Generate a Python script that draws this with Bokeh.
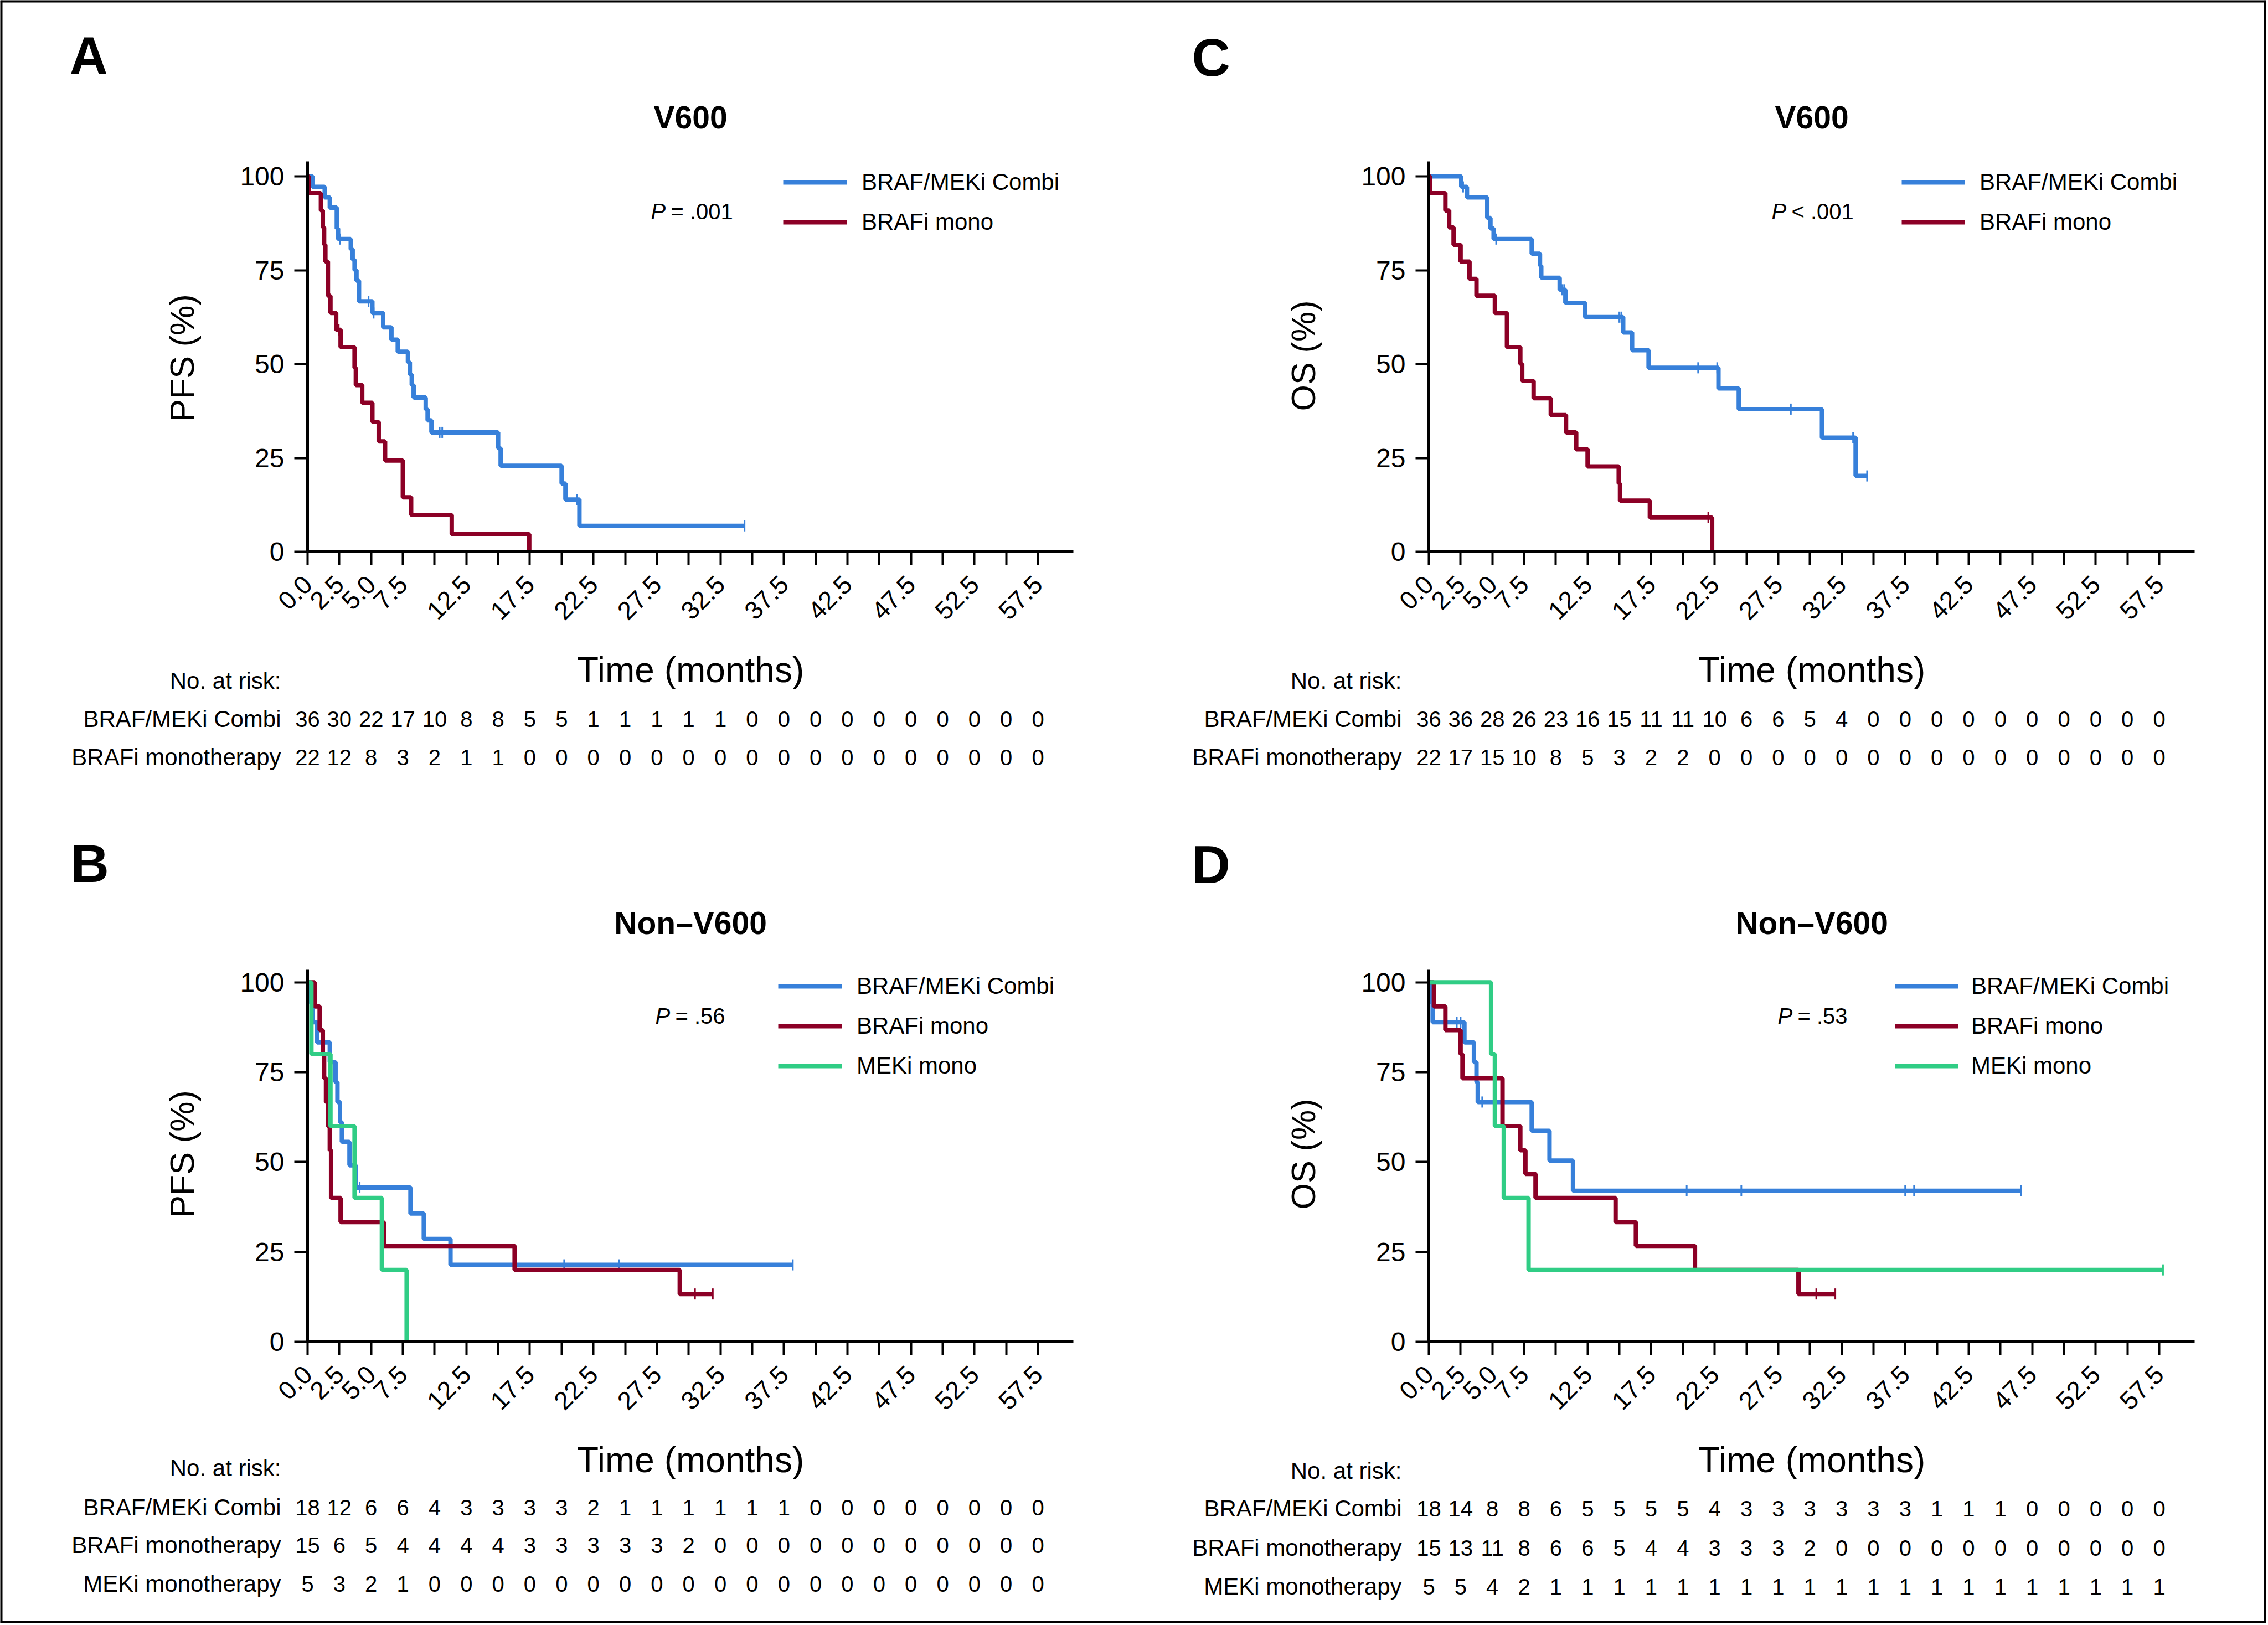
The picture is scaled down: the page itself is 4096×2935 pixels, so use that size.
import math
from bokeh.plotting import figure
from bokeh.models import (ColumnDataSource, FixedTicker, Label, LabelSet, Legend,
                          LegendItem, LinearAxis, Span)
from bokeh.layouts import column, row
from bokeh.embed import file_html
from bokeh.resources import INLINE
from bokeh.core.properties import value

# ------------------------------------------------------------------ data
RISK_TIMES = [0, 2.5, 5, 7.5, 10, 12.5, 15, 17.5, 20, 22.5, 25, 27.5, 30, 32.5,
              35, 37.5, 40, 42.5, 45, 47.5, 50, 52.5, 55, 57.5]
XTICK_LABELS = ["0.0", "2.5", "5.0", "7.5", "", "12.5", "", "17.5", "", "22.5", "",
                "27.5", "", "32.5", "", "37.5", "", "42.5", "", "47.5", "", "52.5", "", "57.5"]
YTICKS = [0, 25, 50, 75, 100]

SERIES_NAMES = ["BRAF/MEKi Combi", "BRAFi mono", "MEKi mono"]
RISK_NAMES = ["BRAF/MEKi Combi", "BRAFi monotherapy", "MEKi monotherapy"]

# Panel A: PFS, V600
A_COMBI_T = [0, 0.4, 1.35, 1.75, 2.3, 2.4, 3.4, 3.55, 3.7, 3.85, 4.05, 5.1, 5.95, 6.6, 7.1,
             7.9, 8.05, 8.2, 8.35, 9.3, 9.45, 9.75, 15.0, 15.2, 20.0, 20.3, 21.4]
A_COMBI_S = [100, 97.2, 94.4, 91.7, 86.1, 83.3, 80.6, 77.8, 75.0, 72.2, 66.7, 63.6, 59.8, 56.5,
             53.3, 50.5, 47.2, 44.4, 41.1, 37.9, 35.0, 31.8, 27.6, 22.9, 18.2, 13.9, 6.9]
A_COMBI_END = 34.4
A_COMBI_CENS = [2.55, 4.8, 5.2, 10.4, 10.6, 21.2, 34.4]
A_BRAF_T = [0, 0.1, 1.05, 1.2, 1.3, 1.4, 1.6, 1.8, 2.25, 2.6, 3.7, 3.8, 4.3, 5.1, 5.6, 6.1,
            7.5, 8.15, 11.35, 17.45]
A_BRAF_S = [100, 95.5, 90.9, 86.4, 81.8, 77.3, 68.2, 63.6, 59.1, 54.5, 49.0, 44.4, 39.7, 34.6,
            29.4, 24.3, 14.5, 9.8, 4.7, 0]
A_BRAF_END = 17.45
A_BRAF_CENS = [2.45]
A_RISK_COMBI = [36, 30, 22, 17, 10, 8, 8, 5, 5, 1, 1, 1, 1, 1, 0, 0, 0, 0, 0, 0, 0, 0, 0, 0]
A_RISK_BRAF = [22, 12, 8, 3, 2, 1, 1, 0, 0, 0, 0, 0, 0, 0, 0, 0, 0, 0, 0, 0, 0, 0, 0, 0]

# Panel C: OS, V600
C_COMBI_T = [0, 2.55, 3.0, 4.6, 4.85, 5.1, 8.1, 8.75, 8.85, 10.3, 10.75, 12.3, 15.3, 16.0,
             17.3, 22.8, 24.4, 30.95, 33.6]
C_COMBI_S = [100, 97.2, 94.4, 88.9, 86.1, 83.3, 79.4, 76.2, 73.0, 69.8, 66.3, 62.5, 58.4, 53.7,
             49.0, 43.5, 38.0, 30.4, 20.2]
C_COMBI_END = 34.5
C_COMBI_CENS = [2.7, 5.3, 10.5, 10.65, 15.0, 15.15, 21.2, 22.7, 28.5, 33.4, 34.5]
C_BRAF_T = [0, 0.1, 1.3, 1.6, 1.95, 2.5, 3.2, 3.75, 5.2, 6.15, 7.2, 7.35, 8.25, 9.6, 10.8,
            11.6, 12.5, 14.95, 15.05, 17.4, 22.3]
C_BRAF_S = [100, 95.5, 90.9, 86.4, 81.8, 77.3, 72.7, 68.2, 63.6, 54.5, 50.0, 45.5, 40.9, 36.4,
            31.8, 27.3, 22.7, 18.2, 13.6, 9.1, 0]
C_BRAF_END = 22.3
C_BRAF_CENS = [22.0]
C_RISK_COMBI = [36, 36, 28, 26, 23, 16, 15, 11, 11, 10, 6, 6, 5, 4, 0, 0, 0, 0, 0, 0, 0, 0, 0, 0]
C_RISK_BRAF = [22, 17, 15, 10, 8, 5, 3, 2, 2, 0, 0, 0, 0, 0, 0, 0, 0, 0, 0, 0, 0, 0, 0, 0]

# Panel B: PFS, non-V600
B_COMBI_T = [0, 0.2, 0.4, 0.75, 1.75, 2.2, 2.35, 2.55, 2.7, 3.3, 3.8, 8.1, 9.15, 11.25]
B_COMBI_S = [100, 94.4, 88.9, 83.3, 77.8, 72.2, 66.7, 61.1, 55.6, 49.1, 42.9, 35.7, 28.6, 21.4]
B_COMBI_END = 38.2
B_COMBI_CENS = [4.1, 20.2, 24.5, 38.2]
B_BRAF_T = [0, 0.55, 0.95, 1.2, 1.3, 1.45, 1.6, 1.75, 1.85, 2.6, 6.0, 16.3, 29.3]
B_BRAF_S = [100, 93.3, 86.7, 80.0, 73.3, 66.7, 60.0, 53.3, 40.0, 33.3, 26.7, 20.0, 13.3]
B_BRAF_END = 31.9
B_BRAF_CENS = [30.5, 31.9]
B_MEK_T = [0, 0.3, 1.8, 3.7, 5.85, 7.8]
B_MEK_S = [100, 80, 60, 40, 20, 0]
B_MEK_END = 7.8
B_MEK_CENS = []
B_RISK_COMBI = [18, 12, 6, 6, 4, 3, 3, 3, 3, 2, 1, 1, 1, 1, 1, 1, 0, 0, 0, 0, 0, 0, 0, 0]
B_RISK_BRAF = [15, 6, 5, 4, 4, 4, 4, 3, 3, 3, 3, 3, 2, 0, 0, 0, 0, 0, 0, 0, 0, 0, 0, 0]
B_RISK_MEK = [5, 3, 2, 1, 0, 0, 0, 0, 0, 0, 0, 0, 0, 0, 0, 0, 0, 0, 0, 0, 0, 0, 0, 0]

# Panel D: OS, non-V600
D_COMBI_T = [0, 0.15, 0.3, 2.8, 3.55, 3.75, 3.85, 8.1, 9.5, 11.35]
D_COMBI_S = [100, 94.4, 88.9, 83.3, 77.8, 72.2, 66.7, 58.7, 50.4, 42.0]
D_COMBI_END = 46.6
D_COMBI_CENS = [2.2, 2.5, 4.2, 20.3, 24.6, 37.5, 38.2, 46.6]
D_BRAF_T = [0, 0.4, 1.3, 2.5, 2.65, 5.8, 7.2, 7.6, 8.4, 14.7, 16.3, 20.95, 29.1]
D_BRAF_S = [100, 93.3, 86.7, 80.0, 73.3, 60.0, 53.3, 46.7, 40.0, 33.3, 26.7, 20.0, 13.3]
D_BRAF_END = 32.0
D_BRAF_CENS = [30.5, 32.0]
D_MEK_T = [0, 4.9, 5.2, 5.9, 7.85]
D_MEK_S = [100, 80, 60, 40, 20]
D_MEK_END = 57.8
D_MEK_CENS = [57.8]
D_RISK_COMBI = [18, 14, 8, 8, 6, 5, 5, 5, 5, 4, 3, 3, 3, 3, 3, 3, 1, 1, 1, 0, 0, 0, 0, 0]
D_RISK_BRAF = [15, 13, 11, 8, 6, 6, 5, 4, 4, 3, 3, 3, 2, 0, 0, 0, 0, 0, 0, 0, 0, 0, 0, 0]
D_RISK_MEK = [5, 5, 4, 2, 1, 1, 1, 1, 1, 1, 1, 1, 1, 1, 1, 1, 1, 1, 1, 1, 1, 1, 1, 1]

# ------------------------------------------------------------------ style / layout
COLORS = ["#3780DA", "#8C0026", "#30CD85"]
SANS = "Liberation Sans"
PXM = 22.94      # pixels per month
XMAX = 60.3


def level_at(ts, ss, c):
    v = ss[0]
    for t, s in zip(ts, ss):
        if t <= c:
            v = s
        else:
            break
    return v


def lab(p, x, y, text, size, **kw):
    opts = dict(text_font=SANS, text_font_size=size, text_color="black",
                text_baseline="middle")
    opts.update(kw)
    p.add_layout(Label(x=x, y=y, text=text, **opts))


def make_panel(cfg):
    g = cfg["geo"]
    x0, y0 = g["x0"], g["y0"]
    pxp = g["pxp"]

    def fx(X):
        return (X - x0) / PXM

    def fy(Y):
        return (y0 - Y) / pxp

    xr = (fx(g["ox"]), fx(g["ox"] + g["w"]))
    yr = (fy(g["oy"] + g["h"]), fy(g["oy"]))
    p = figure(width=g["w"], height=g["h"], x_range=xr, y_range=yr,
               x_axis_location=None, y_axis_location=None,
               min_border_left=0, min_border_right=0, min_border_top=0, min_border_bottom=0,
               output_backend="svg", toolbar_location=None)
    p.outline_line_color = None
    p.xgrid.visible = False
    p.ygrid.visible = False
    p.background_fill_color = "white"
    p.border_fill_color = "white"

    xa = LinearAxis(fixed_location=0, bounds=(0, XMAX), ticker=FixedTicker(ticks=RISK_TIMES))
    ya = LinearAxis(fixed_location=0, bounds=(0, g["ymax"]), ticker=FixedTicker(ticks=YTICKS))
    for ax in (xa, ya):
        ax.axis_line_width = 5
        ax.axis_line_color = "black"
        ax.major_tick_line_width = 4
        ax.major_tick_line_color = "black"
        ax.major_tick_out = 24
        ax.major_tick_in = 0
        ax.minor_tick_line_color = None
        ax.major_label_text_color = "black"
        ax.major_label_text_font = SANS
    xa.major_label_overrides = {t: s for t, s in zip(RISK_TIMES, XTICK_LABELS)}
    xa.major_label_orientation = math.pi / 4
    xa.major_label_text_font_size = "46px"
    xa.major_label_standoff = 27
    ya.major_label_text_font_size = "48px"
    ya.major_label_standoff = 18
    p.add_layout(xa, "below")
    p.add_layout(ya, "left")

    # outer frame of the whole picture (outside edges only)
    for side in cfg["frame"]:
        if side == "left":
            loc, dim = xr[0], "height"
        elif side == "right":
            loc, dim = xr[1], "height"
        elif side == "top":
            loc, dim = yr[1], "width"
        else:
            loc, dim = yr[0], "width"
        p.add_layout(Span(location=loc, dimension=dim, line_color="black", line_width=8))

    items = []
    for i, (ts, ss, end, cens) in enumerate(cfg["curves"]):
        xs = list(ts)
        ys = list(ss)
        if end > xs[-1]:
            xs.append(end)
            ys.append(ys[-1])
        src = ColumnDataSource(dict(t=xs, s=ys))
        r = p.step("t", "s", source=src, mode="after", line_color=COLORS[i], line_width=8)
        if cens:
            cy = [level_at(ts, ss, c) for c in cens]
            p.scatter(cens, cy, marker="dash", angle=math.pi / 2, size=20,
                      line_color=COLORS[i], line_width=3)
        items.append(LegendItem(label=SERIES_NAMES[i], renderers=[r]))

    lg = cfg["legend"]
    legend = Legend(items=items, location=(lg["vx"], lg["vy"]), glyph_width=115,
                    glyph_height=46, label_height=46, spacing=24, padding=0, margin=0,
                    label_standoff=lg["standoff"], border_line_color=None,
                    background_fill_alpha=0, label_text_font=SANS,
                    label_text_font_size="42px", label_text_color="black")
    p.add_layout(legend)

    # titles and labels (y values are visual centres)
    xc = XMAX / 2
    lab(p, xc, fy(cfg["title_y"]), cfg["title"], "57px", text_font_style="bold",
        text_align="center")
    lab(p, fx(cfg["letter_x"]), fy(cfg["letter_y"]), cfg["letter"], "96px",
        text_font_style="bold")
    lab(p, fx(x0 - 227), fy(cfg["ylab_y"]), cfg["ylabel"], "61px", angle=math.pi / 2,
        text_align="center")
    lab(p, xc, fy(y0 + 213), "Time (months)", "64px", text_align="center")

    pv = cfg["pval"]
    lab(p, fx(pv["px"]), fy(pv["y"]), "P", "40px", text_font_style="italic")
    lab(p, fx(pv["rx"]), fy(pv["y"]), pv["text"], "40px")

    rk = cfg["risk"]
    lab(p, fx(rk["right"]), fy(rk["head_y"]), "No. at risk:", "42px", text_align="right")
    for i, (vals, ry) in enumerate(zip(rk["rows"], rk["ys"])):
        lab(p, fx(rk["right"]), fy(ry), RISK_NAMES[i], "42px", text_align="right")
        src = ColumnDataSource(dict(x=RISK_TIMES, y=[fy(ry)] * len(RISK_TIMES),
                                    text=[str(v) for v in vals]))
        p.add_layout(LabelSet(x="x", y="y", text="text", source=src,
                              text_font=value(SANS), text_font_size="40px",
                              text_align="center", text_baseline="middle",
                              text_color="black"))
    return p


TOP = dict(oy=0, h=1448, y0=996, pxp=705 / 104, ymax=104)
BOT = dict(oy=1448, h=1483, y0=2423, pxp=672 / 103.5, ymax=103.5)

panel_A = make_panel(dict(
    geo=dict(ox=0, w=2046, x0=555, **TOP), frame=["left", "top"],
    title="V600", title_y=211, ylabel="PFS (%)", ylab_y=646,
    letter="A", letter_x=125, letter_y=100,
    curves=[(A_COMBI_T, A_COMBI_S, A_COMBI_END, A_COMBI_CENS),
            (A_BRAF_T, A_BRAF_S, A_BRAF_END, A_BRAF_CENS)],
    legend=dict(vx=1414, vy=1023, standoff=27),
    pval=dict(px=1175, rx=1211, y=381, text="= .001"),
    risk=dict(right=507, head_y=1229, ys=[1298, 1367], rows=[A_RISK_COMBI, A_RISK_BRAF])))

panel_C = make_panel(dict(
    geo=dict(ox=2046, w=2046, x0=2580, **TOP), frame=["right", "top"],
    title="V600", title_y=211, ylabel="OS (%)", ylab_y=642,
    letter="C", letter_x=2152, letter_y=103,
    curves=[(C_COMBI_T, C_COMBI_S, C_COMBI_END, C_COMBI_CENS),
            (C_BRAF_T, C_BRAF_S, C_BRAF_END, C_BRAF_CENS)],
    legend=dict(vx=1388, vy=1023, standoff=26),
    pval=dict(px=3199, rx=3235, y=381, text="< .001"),
    risk=dict(right=2531, head_y=1229, ys=[1298, 1367], rows=[C_RISK_COMBI, C_RISK_BRAF])))

panel_B = make_panel(dict(
    geo=dict(ox=0, w=2046, x0=555, **BOT), frame=["left", "bottom"],
    title="Non\u2013V600", title_y=1666, ylabel="PFS (%)", ylab_y=2084,
    letter="B", letter_x=127, letter_y=1559,
    curves=[(B_COMBI_T, B_COMBI_S, B_COMBI_END, B_COMBI_CENS),
            (B_BRAF_T, B_BRAF_S, B_BRAF_END, B_BRAF_CENS),
            (B_MEK_T, B_MEK_S, B_MEK_END, B_MEK_CENS)],
    legend=dict(vx=1405, vy=982, standoff=27),
    pval=dict(px=1183, rx=1219, y=1834, text="= .56"),
    risk=dict(right=507, head_y=2651, ys=[2722, 2790, 2860],
              rows=[B_RISK_COMBI, B_RISK_BRAF, B_RISK_MEK])))

panel_D = make_panel(dict(
    geo=dict(ox=2046, w=2046, x0=2580, **BOT), frame=["right", "bottom"],
    title="Non\u2013V600", title_y=1666, ylabel="OS (%)", ylab_y=2084,
    letter="D", letter_x=2152, letter_y=1561,
    curves=[(D_COMBI_T, D_COMBI_S, D_COMBI_END, D_COMBI_CENS),
            (D_BRAF_T, D_BRAF_S, D_BRAF_END, D_BRAF_CENS),
            (D_MEK_T, D_MEK_S, D_MEK_END, D_MEK_CENS)],
    legend=dict(vx=1376, vy=982, standoff=23),
    pval=dict(px=3210, rx=3246, y=1834, text="= .53"),
    risk=dict(right=2531, head_y=2656, ys=[2724, 2795, 2865],
              rows=[D_RISK_COMBI, D_RISK_BRAF, D_RISK_MEK])))

layout = column(row(panel_A, panel_C, spacing=0), row(panel_B, panel_D, spacing=0), spacing=0)

with open("out.html", "w") as f:
    f.write(file_html(layout, INLINE))
